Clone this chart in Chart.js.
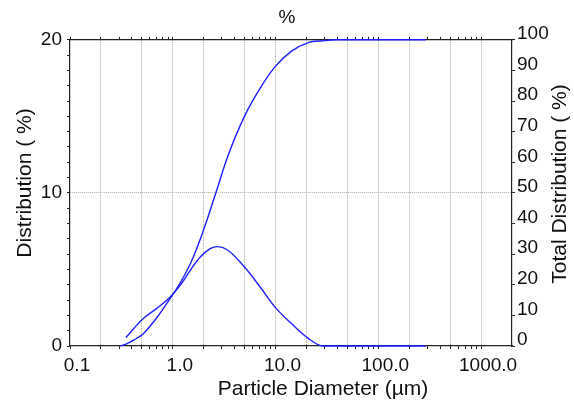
<!DOCTYPE html>
<html>
<head>
<meta charset="utf-8">
<script src="https://cdn.jsdelivr.net/npm/chart.js@4/dist/chart.umd.min.js"></script>
<style>
  html, body { margin: 0; padding: 0; background: #fff; }
  #wrap { width: 574px; height: 401px; }
</style>
</head>
<body>
<div id="wrap"><canvas id="psdChart"></canvas></div>
<script>
// particle size (µm) and the two curves
const sizes = [0.31, 0.35, 0.42, 0.52, 0.7, 0.95, 1.19, 1.49, 1.87, 2.34, 2.72, 3.41, 4.97, 7.24, 9.78, 14.2, 20.8, 29, 40, 100, 290];
const distribution = [null, 0.55, 1.16, 1.81, 2.46, 3.22, 3.99, 4.97, 5.84, 6.38, 6.49, 6.27, 5.18, 3.77, 2.57, 1.48, 0.5, 0, 0, 0, 0];
const cumulative = [0, 0.6, 2.0, 4.1, 9.3, 15.7, 20.8, 27, 35.3, 44.8, 51.6, 61.7, 74.9, 84.7, 91, 96.2, 99.1, 99.7, 100, 100, 100];

const xDecades = [0.1, 1, 10, 100, 1000];
const xTickLabels = ['0.1', '1.0', '10.0', '100.0', '1000.0'];
const yLeftLabels = [0, 10, 20];

const chartTitle = '%';
const xTitle = 'Particle Diameter (µm)';
const yTitle = 'Distribution ( %)';
const y2Title = 'Total Distribution ( %)';

const FONT = '"Liberation Sans", Arial, sans-serif';
const lineColor = '#2020ff';
const gridColor = '#a8a8a8';
const none = 'rgba(0,0,0,0)';

// minor ticks 1..9 in every decade, nothing past 1000
const xTickValues = [];
xDecades.forEach(d => {
  for (let m = 1; m <= 9; m++) {
    const v = +(d * m).toPrecision(3);
    if (v <= 1000) xTickValues.push(v);
  }
});

function mantissa(v) {
  return Math.round(v / Math.pow(10, Math.floor(Math.log10(v) + 1e-9)));
}

function toPoints(vals) {
  return sizes.map((s, i) => ({ x: s, y: vals[i] })).filter(p => p.y !== null);
}

// axis titles drawn by hand so they sit where the original has them
const axisTitles = {
  id: 'axisTitles',
  afterDraw(chart) {
    const { ctx } = chart;
    const put = (text, x, y, rot) => {
      ctx.save();
      ctx.font = '21px ' + FONT;
      ctx.fillStyle = '#111';
      ctx.textAlign = 'center';
      ctx.textBaseline = 'middle';
      ctx.translate(x, y);
      if (rot) ctx.rotate(rot);
      ctx.fillText(text, 0, 0);
      ctx.restore();
    };
    put(xTitle, 323, 389, 0);
    put(yTitle, 25, 183, -Math.PI / 2);
    put(y2Title, 560, 184, -Math.PI / 2);
  }
};

const tickStyle = { tickLength: 3, tickColor: '#222', tickWidth: 1 };

new Chart(document.getElementById('psdChart'), {
  type: 'line',
  data: {
    datasets: [{
      label: 'Distribution',
      data: toPoints(distribution),
      yAxisID: 'y',
      borderColor: lineColor,
      borderWidth: 1.4,
      pointRadius: 0,
      cubicInterpolationMode: 'monotone',
      clip: false,
      fill: false
    }, {
      label: 'Total Distribution',
      data: toPoints(cumulative),
      yAxisID: 'y2',
      borderColor: lineColor,
      borderWidth: 1.4,
      pointRadius: 0,
      cubicInterpolationMode: 'monotone',
      clip: false,
      fill: false
    }]
  },
  options: {
    responsive: true,
    maintainAspectRatio: false,
    animation: false,
    layout: { padding: 0 },
    plugins: {
      legend: { display: false },
      tooltip: { enabled: false },
      title: {
        display: true,
        text: chartTitle,
        color: '#111',
        font: { family: FONT, size: 19, weight: 'normal' },
        padding: { top: 6, bottom: 0 }
      }
    },
    scales: {
      x: {
        type: 'logarithmic',
        position: 'bottom',
        min: 0.1,
        max: 2000,
        afterBuildTicks: scale => { scale.ticks = xTickValues.map(v => ({ value: v })); },
        afterFit: scale => { scale.height = 55; },
        border: { color: '#222', width: 1.2, dash: [1, 1] },
        grid: {
          ...tickStyle,
          color: ctx => {
            const v = ctx.tick ? ctx.tick.value : 0;
            if (v <= 0.1) return none;
            const m = mantissa(v);
            return (m === 1 || m === 2 || m === 5) ? gridColor : none;
          }
        },
        ticks: {
          autoSkip: false,
          maxRotation: 0,
          minRotation: 0,
          padding: 5,
          labelOffset: 7,
          color: '#111',
          font: { family: FONT, size: 19 },
          callback: (val, i, ticks) => {
            const v = ticks[i].value;
            const k = xDecades.findIndex(d => Math.abs(d - v) / d < 1e-6);
            return k >= 0 ? xTickLabels[k] : '';
          }
        }
      },
      x2: {
        type: 'logarithmic',
        position: 'top',
        min: 0.1,
        max: 2000,
        afterBuildTicks: scale => { scale.ticks = xTickValues.map(v => ({ value: v })); },
        afterFit: scale => { scale.height = 11; },
        border: { color: '#222', width: 1.2 },
        grid: { ...tickStyle, drawOnChartArea: false },
        ticks: { autoSkip: false, maxRotation: 0, callback: () => '' }
      },
      y: {
        position: 'left',
        min: 0,
        max: 20,
        afterFit: scale => { scale.width = 70; },
        border: { color: '#222', width: 1.2, dash: [1, 1] },
        grid: {
          ...tickStyle,
          color: ctx => (ctx.tick && ctx.tick.value === 10) ? gridColor : none
        },
        ticks: {
          stepSize: 1,
          autoSkip: false,
          padding: 5,
          color: '#111',
          font: { family: FONT, size: 19 },
          callback: v => yLeftLabels.includes(v) ? String(v) : ''
        }
      },
      y2: {
        position: 'right',
        min: 0,
        max: 100,
        afterFit: scale => { scale.width = 62; },
        border: { color: '#222', width: 1.2 },
        grid: { ...tickStyle, drawOnChartArea: false },
        ticks: {
          stepSize: 10,
          autoSkip: false,
          padding: 2,
          labelOffset: -6,
          color: '#111',
          font: { family: FONT, size: 19 }
        }
      }
    }
  },
  plugins: [axisTitles]
});
</script>
</body>
</html>
